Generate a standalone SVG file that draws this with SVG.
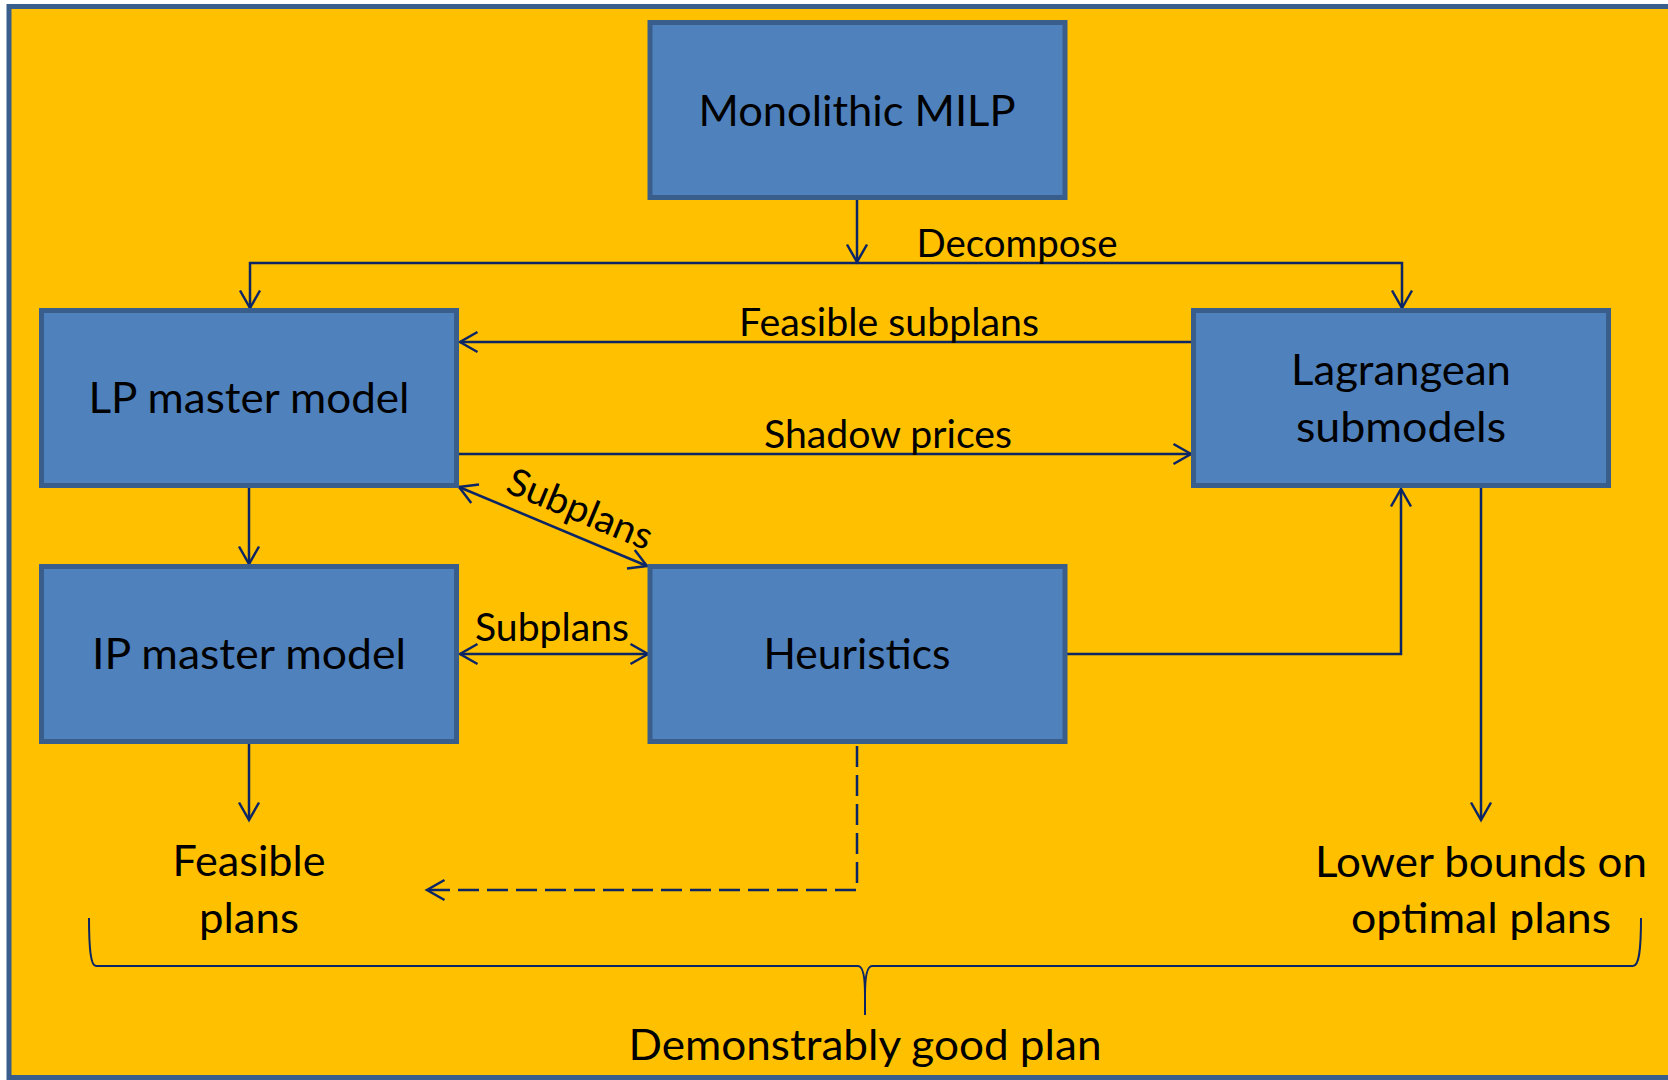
<svg xmlns="http://www.w3.org/2000/svg" width="1668" height="1080" viewBox="0 0 1668 1080">
  <style>
    .frame { fill: #FFC000; stroke: #3A5E8C; stroke-width: 5; }
    .box { fill: #4F81BD; stroke: #3A5E8C; stroke-width: 5; }
    .lbl { font-family: Lato, "Open Sans", "Liberation Sans", sans-serif; fill: #000; text-anchor: middle; }
    .big { font-size: 42px; }
    .small { font-size: 38px; }
    .conn { fill: none; stroke: #0B2565; stroke-width: 2.5; stroke-linejoin: miter; }
    .dash { stroke-dasharray: 21 8; }
    .brace { fill: none; stroke: #0B2565; stroke-width: 2; }
  </style>
  <defs>
    <marker id="arrow" markerUnits="userSpaceOnUse" markerWidth="40" markerHeight="40" viewBox="-20 -20 40 40" refX="0" refY="0" orient="auto-start-reverse">
      <path d="M -17.5 -10 L 0 0 L -17.5 10" fill="none" stroke="#0B2565" stroke-width="2.5"/>
    </marker>
  </defs>

  <rect x="0" y="0" width="1668" height="1080" fill="#ffffff"/>
  <rect class="frame" x="9" y="6.5" width="1700" height="1071"/>

  <!-- connectors -->
  <g id="connectors">
    <path class="conn" d="M 857 200 L 857 262" marker-end="url(#arrow)"/>
    <path class="conn" d="M 250 308 L 250 263 L 1402 263 L 1402 308" marker-start="url(#arrow)" marker-end="url(#arrow)"/>
    <path class="conn" d="M 1191 342 L 460 342" marker-end="url(#arrow)"/>
    <path class="conn" d="M 459 454 L 1191 454" marker-end="url(#arrow)"/>
    <path class="conn" d="M 459 487 L 647 566" marker-start="url(#arrow)" marker-end="url(#arrow)"/>
    <path class="conn" d="M 249 488 L 249 564" marker-end="url(#arrow)"/>
    <path class="conn" d="M 460 654 L 648 654" marker-start="url(#arrow)" marker-end="url(#arrow)"/>
    <path class="conn" d="M 1067 654 L 1401 654 L 1401 489" marker-end="url(#arrow)"/>
    <path class="conn" d="M 249 744 L 249 820" marker-end="url(#arrow)"/>
    <path class="conn" d="M 1481 488 L 1481 820" marker-end="url(#arrow)"/>
    <path class="conn dash" d="M 857 746 L 857 890 L 427 890" marker-end="url(#arrow)"/>

    <text class="lbl small" x="1017" y="257" textLength="201" lengthAdjust="spacingAndGlyphs">Decompose</text>
    <text class="lbl small" x="889" y="336" textLength="300" lengthAdjust="spacingAndGlyphs">Feasible subplans</text>
    <text class="lbl small" x="888" y="448" textLength="248" lengthAdjust="spacingAndGlyphs">Shadow prices</text>
    <text class="lbl small" x="552" y="641" textLength="154" lengthAdjust="spacingAndGlyphs">Subplans</text>
    <text class="lbl small" x="0" y="0" transform="translate(575 521) rotate(22.6)" textLength="154" lengthAdjust="spacingAndGlyphs">Subplans</text>
  </g>

  <!-- model nodes -->
  <g id="monolithic">
    <rect class="box" x="650" y="22.5" width="415" height="175"/>
    <text class="lbl big" x="857" y="126" textLength="317" lengthAdjust="spacingAndGlyphs">Monolithic MILP</text>
  </g>
  <g id="lp-master">
    <rect class="box" x="41.5" y="310.5" width="415" height="175"/>
    <text class="lbl big" x="249" y="413" textLength="321" lengthAdjust="spacingAndGlyphs">LP master model</text>
  </g>
  <g id="lagrangean">
    <rect class="box" x="1193.5" y="310.5" width="415" height="175"/>
    <text class="lbl big" x="1401" y="385" textLength="220" lengthAdjust="spacingAndGlyphs">Lagrangean</text>
    <text class="lbl big" x="1401" y="442" textLength="210" lengthAdjust="spacingAndGlyphs">submodels</text>
  </g>
  <g id="ip-master">
    <rect class="box" x="41.5" y="566.5" width="415" height="175"/>
    <text class="lbl big" x="249" y="669" textLength="314" lengthAdjust="spacingAndGlyphs">IP master model</text>
  </g>
  <g id="heuristics">
    <rect class="box" x="650" y="566.5" width="415" height="175"/>
    <text class="lbl big" x="857" y="669" textLength="187" lengthAdjust="spacingAndGlyphs">Heuristics</text>
  </g>

  <!-- outcomes -->
  <g id="feasible-plans">
    <text class="lbl big" x="249" y="876" textLength="153" lengthAdjust="spacingAndGlyphs">Feasible</text>
    <text class="lbl big" x="249" y="933" textLength="100" lengthAdjust="spacingAndGlyphs">plans</text>
  </g>
  <g id="lower-bounds">
    <text class="lbl big" x="1481" y="877" textLength="332" lengthAdjust="spacingAndGlyphs">Lower bounds on</text>
    <text class="lbl big" x="1481" y="933" textLength="260" lengthAdjust="spacingAndGlyphs">optimal plans</text>
  </g>
  <g id="good-plan">
    <path class="brace" d="M 89 918 C 89 950 91 966 96 966 L 858 966 Q 865 966 865 995 L 865 1015 M 865 995 Q 865 966 872 966 L 1633 966 C 1639 966 1641 950 1641 918"/>
    <text class="lbl big" x="865" y="1060" textLength="473" lengthAdjust="spacingAndGlyphs">Demonstrably good plan</text>
  </g>
</svg>
